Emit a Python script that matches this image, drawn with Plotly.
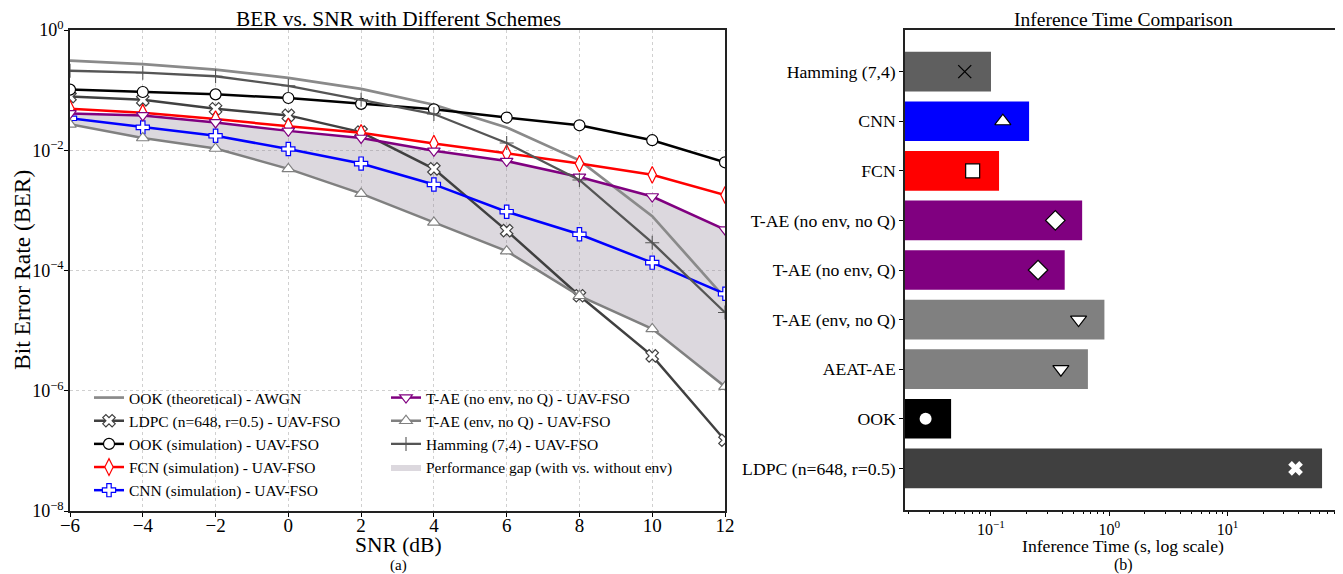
import plotly.graph_objects as go

# ---------------- data: BER vs SNR ----------------
snr_db = [-6, -4, -2, 0, 2, 4, 6, 8, 10, 12]
ber_ook_theory = [0.31, 0.27, 0.22, 0.16, 0.105, 0.057, 0.024, 0.0068, 8.0e-4, 3.5e-5]
ber_ldpc = [0.078, 0.069, 0.049, 0.038, 0.020, 0.0049, 4.6e-4, 3.8e-5, 3.8e-6, 1.5e-7]
ber_ook_sim = [0.102, 0.093, 0.085, 0.074, 0.059, 0.048, 0.035, 0.026, 0.0147, 0.0063]
ber_fcn = [0.049, 0.042, 0.033, 0.025, 0.0195, 0.0129, 0.0089, 0.006, 0.0039, 0.0018]
ber_cnn = [0.034, 0.024, 0.0174, 0.0105, 0.006, 0.0027, 9.5e-4, 4.0e-4, 1.35e-4, 4.1e-5]
ber_tae_noenv_noq = [0.041, 0.038, 0.029, 0.021, 0.016, 0.0098, 0.0066, 0.0036, 0.0017, 4.8e-4]
ber_tae_env_noq = [0.027, 0.016, 0.0107, 0.0049, 0.0019, 6.3e-4, 2.1e-4, 3.8e-5, 1.07e-5, 1.17e-6]
ber_hamming = [0.21, 0.195, 0.17, 0.118, 0.069, 0.040, 0.0132, 0.0032, 2.9e-4, 2.0e-5]

# ---------------- data: inference time ----------------
methods = ["Hamming (7,4)", "CNN", "FCN", "T-AE (no env, no Q)", "T-AE (no env, Q)",
           "T-AE (env, no Q)", "AEAT-AE", "OOK", "LDPC (n=648, r=0.5)"]
inference_time = [0.100, 0.21, 0.117, 0.59, 0.42, 0.91, 0.66, 0.046, 63.0]
inference_marker = [0.060, 0.126, 0.070, 0.35, 0.25, 0.55, 0.39, 0.028, 37.6]
bar_colors = ["#5f5f5f", "#0000ff", "#ff0000", "#800080", "#800080",
              "#808080", "#808080", "#000000", "#404040"]
marker_symbols = ["x-thin", "triangle-up", "square", "diamond", "diamond",
                  "triangle-down", "triangle-down", "circle", "x"]

FONT = "Liberation Serif"
PAGE_OFF = 8            # default body margin of the html page
W, H = 1343 - PAGE_OFF, 574 - PAGE_OFF

def px_x(p):
    return (p - PAGE_OFF) / W

def px_y(p):
    return 1 - (p - PAGE_OFF) / H

fig = go.Figure()

# performance gap polygon (between T-AE curves)
fig.add_trace(go.Scatter(
    x=snr_db + snr_db[::-1],
    y=ber_tae_noenv_noq + ber_tae_env_noq[::-1],
    fill="toself", fillcolor="rgba(140,125,145,0.30)", line=dict(width=0),
    mode="lines", name="Performance gap (with vs. without env)",
    legend="legend2", legendrank=4, xaxis="x", yaxis="y", hoverinfo="skip"))

series = [
    ("OOK (theoretical) - AWGN", ber_ook_theory, "#8a8a8a", None, None, "legend", 1),
    ("LDPC (n=648, r=0.5) - UAV-FSO", ber_ldpc, "#404040", "x", "white", "legend", 2),
    ("OOK (simulation) - UAV-FSO", ber_ook_sim, "#000000", "circle", "white", "legend", 3),
    ("FCN (simulation) - UAV-FSO", ber_fcn, "#ff0000", "diamond-tall", "white", "legend", 4),
    ("CNN (simulation) - UAV-FSO", ber_cnn, "#0000ff", "cross", "white", "legend", 5),
    ("T-AE (no env, no Q) - UAV-FSO", ber_tae_noenv_noq, "#800080", "triangle-down", "white", "legend2", 1),
    ("T-AE (env, no Q) - UAV-FSO", ber_tae_env_noq, "#808080", "triangle-up", "white", "legend2", 2),
    ("Hamming (7,4) - UAV-FSO", ber_hamming, "#555555", "cross-thin", None, "legend2", 3),
]
for name, vals, col, sym, face, leg, rank in series:
    if sym is None:
        fig.add_trace(go.Scatter(x=snr_db, y=vals, mode="lines", name=name,
                                 line=dict(color=col, width=2.7), legend=leg, legendrank=rank))
    elif sym == "cross-thin":
        fig.add_trace(go.Scatter(x=snr_db, y=vals, mode="lines+markers", name=name,
                                 line=dict(color=col, width=2.3),
                                 marker=dict(symbol=sym, size=10, line=dict(color=col, width=1.1)),
                                 legend=leg, legendrank=rank))
    else:
        fig.add_trace(go.Scatter(x=snr_db, y=vals, mode="lines+markers", name=name,
                                 line=dict(color=col, width=2.5),
                                 marker=dict(symbol=sym, size=11 if sym != "diamond-tall" else 12,
                                             color=face, line=dict(color=col, width=1.2)),
                                 legend=leg, legendrank=rank))

# bars
fig.add_trace(go.Bar(x=inference_time, y=methods, orientation="h",
                     marker=dict(color=bar_colors, line=dict(width=0)),
                     width=0.8, xaxis="x2", yaxis="y2", showlegend=False))
for m, v, c, s in zip(methods, inference_marker, bar_colors, marker_symbols):
    if s == "x-thin":
        mk = dict(symbol=s, size=13, line=dict(color="black", width=1.3))
    elif s in ("circle", "x"):
        mk = dict(symbol=s, size=12 if s == "circle" else 13, color="white", line=dict(width=0))
    else:
        mk = dict(symbol=s, size=15 if s == "diamond" else 14, color="white",
                  line=dict(color="black", width=1.2))
    fig.add_trace(go.Scatter(x=[v], y=[m], mode="markers", marker=mk,
                             xaxis="x2", yaxis="y2", showlegend=False))

minor_vals = [k * 10.0 ** e for e in range(-2, 2) for k in range(2, 10)]
leg_font = dict(family=FONT, size=15.5, color="black")

fig.update_layout(
    width=W, height=H,
    margin=dict(l=0, r=0, t=0, b=0, autoexpand=False),
    paper_bgcolor="white", plot_bgcolor="white",
    font=dict(family=FONT, color="black"),
    showlegend=True,
    legend=dict(x=px_x(89), y=px_y(381), xanchor="left", yanchor="top",
                font=leg_font, bgcolor="rgba(0,0,0,0)", traceorder="normal",
                tracegroupgap=0),
    legend2=dict(x=px_x(386), y=px_y(381), xanchor="left", yanchor="top",
                 font=leg_font, bgcolor="rgba(0,0,0,0)", traceorder="normal",
                 tracegroupgap=0),
    xaxis=dict(domain=[px_x(70), px_x(725)], range=[-6, 12], tickvals=snr_db,
               ticktext=[str(v).replace("-", "\u2212") for v in snr_db],
               ticks="outside", ticklen=4, tickcolor="black", ticklabelstandoff=-8,
               tickfont=dict(family=FONT, size=19, color="black"),
               showline=True, linecolor="#222", linewidth=1.5, mirror=True,
               showgrid=True, gridcolor="#d0d0d0", griddash="dot", gridwidth=1,
               zeroline=False, anchor="y", automargin=False),
    yaxis=dict(domain=[px_y(511), px_y(30)], type="log", range=[-8, 0],
               tickvals=[1, 1e-2, 1e-4, 1e-6, 1e-8],
               ticktext=["10<sup>0</sup>", "10<sup>\u22122</sup>", "10<sup>\u22124</sup>",
                         "10<sup>\u22126</sup>", "10<sup>\u22128</sup>"],
               ticks="outside", ticklen=4, tickcolor="black", ticklabelstandoff=-3,
               tickfont=dict(family=FONT, size=18, color="black"),
               showline=True, linecolor="#222", linewidth=1.5, mirror=True,
               showgrid=True, gridcolor="#d0d0d0", griddash="dot", gridwidth=1,
               zeroline=False, anchor="x", automargin=False),
    xaxis2=dict(domain=[px_x(905), px_x(1340)], type="log", range=[-1.727, 1.951],
                tickvals=[0.1, 1, 10],
                ticktext=["10<sup>\u22121</sup>", "10<sup>0</sup>", "10<sup>1</sup>"],
                ticks="outside", ticklen=4, tickcolor="black",
                tickfont=dict(family=FONT, size=16, color="black"),
                minor=dict(tickvals=minor_vals, ticks="outside", ticklen=2, tickcolor="black",
                           showgrid=False),
                showline=True, linecolor="#222", linewidth=1.5, mirror=True,
                showgrid=False, zeroline=False, anchor="y2", automargin=False),
    yaxis2=dict(domain=[px_y(510), px_y(30)], categoryorder="array", categoryarray=methods,
                autorange=False, range=[8.84, -0.84],
                ticks="outside", ticklen=4, tickcolor="black",
                tickfont=dict(family=FONT, size=17.7, color="black"),
                showline=True, linecolor="#222", linewidth=1.5, mirror=True,
                showgrid=False, zeroline=False, anchor="x2", automargin=False),
)

annots = [
    dict(text="BER vs. SNR with Different Schemes", x=px_x(398), y=px_y(19), size=21.3),
    dict(text="SNR (dB)", x=px_x(398), y=px_y(545), size=21.5),
    dict(text="(a)", x=px_x(398), y=px_y(565), size=15),
    dict(text="Inference Time Comparison", x=px_x(1123), y=px_y(19), size=19.5),
    dict(text="Inference Time (s, log scale)", x=px_x(1123), y=px_y(546), size=17.7),
    dict(text="(b)", x=px_x(1123), y=px_y(565), size=16),
]
for a in annots:
    fig.add_annotation(text=a["text"], x=a["x"], y=a["y"], xref="paper", yref="paper",
                       xanchor="center", yanchor="middle", showarrow=False,
                       font=dict(family=FONT, size=a["size"], color="black"))
fig.add_annotation(text="Bit Error Rate (BER)", x=px_x(22), y=px_y(270), xref="paper", yref="paper",
                   textangle=-90, xanchor="center", yanchor="middle", showarrow=False,
                   font=dict(family=FONT, size=23.5, color="black"))

fig.write_html("out.html")
